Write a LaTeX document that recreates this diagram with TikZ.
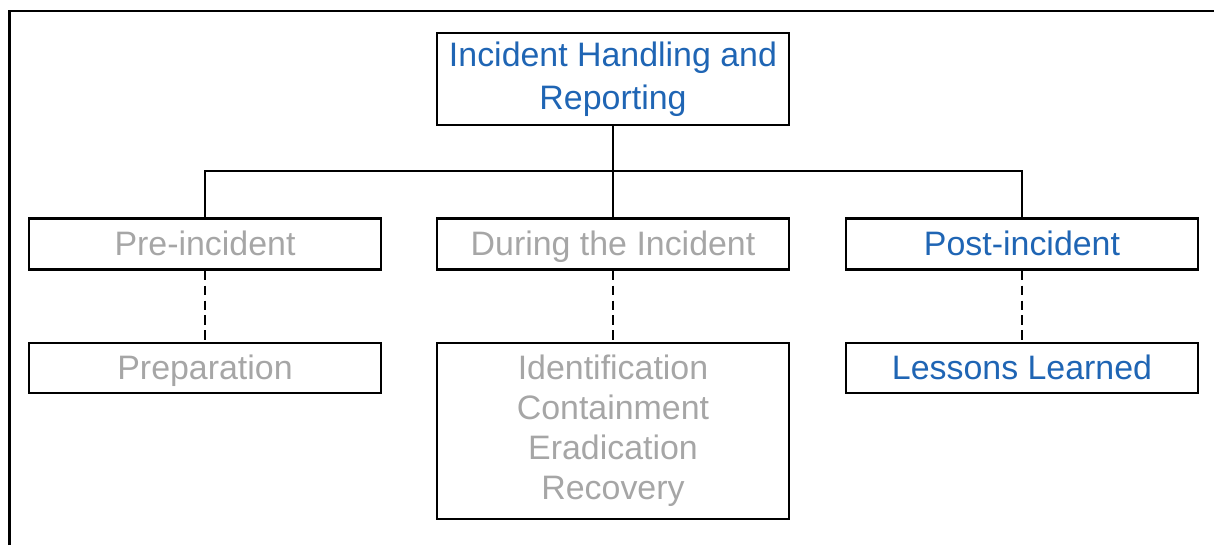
\documentclass[tikz,border=0pt]{standalone}
\usepackage{fontspec}
\setmainfont{Liberation Sans}
\usetikzlibrary{positioning}

\definecolor{headblue}{RGB}{31,101,180}
\definecolor{fadegray}{RGB}{166,166,166}

\tikzset{
  phasebox/.style={draw, line width=1.3pt, minimum width=7.04cm, minimum height=1.02cm,
    inner sep=0pt, align=center, font=\fontsize{19.3}{22.8}\selectfont},
  oneline/.style={text height=16.3pt, text depth=3.2pt},
  active/.style={text=headblue},
  inactive/.style={text=fadegray},
  tree/.style={line width=0.9pt},
  sub/.style={line width=0.9pt, dash pattern=on 5.5pt off 3pt}
}

\begin{document}
\begin{tikzpicture}[x=0.02cm, y=-0.02cm]
  \useasboundingbox (0,0) rectangle (1214,545);
  % frame, cut at right and bottom
  \draw[line width=1.7pt] (9.5,545) -- (9.5,11) -- (1214,11);

  \node[phasebox, active, minimum height=1.84cm, font=\fontsize{19.3}{24.2}\selectfont] (top) at (613,79) {Incident Handling and\\Reporting};

  \node[phasebox, oneline, inactive] (pre) at (205,244) {Pre-incident};
  \node[phasebox, oneline, inactive] (during) at (613,244) {During the Incident};
  \node[phasebox, oneline, active] (post) at (1022,244) {Post-incident};

  \node[phasebox, oneline, inactive, minimum height=1.0cm] (prep) at (205,368) {Preparation};
  \node[phasebox, inactive, minimum height=3.52cm] (steps) at (613,431)
    {Identification\\Containment\\Eradication\\Recovery};
  \node[phasebox, oneline, active, minimum height=1.0cm] (lessons) at (1022,368) {Lessons Learned};

  \coordinate (bus) at (613,171);
  \draw[tree] (top.south) -- (during.north);
  \draw[tree] (pre.north) |- (bus) -| (post.north);

  \draw[sub] (pre.south) -- (prep.north);
  \draw[sub] (during.south) -- (steps.north);
  \draw[sub] (post.south) -- (lessons.north);
\end{tikzpicture}
\end{document}
